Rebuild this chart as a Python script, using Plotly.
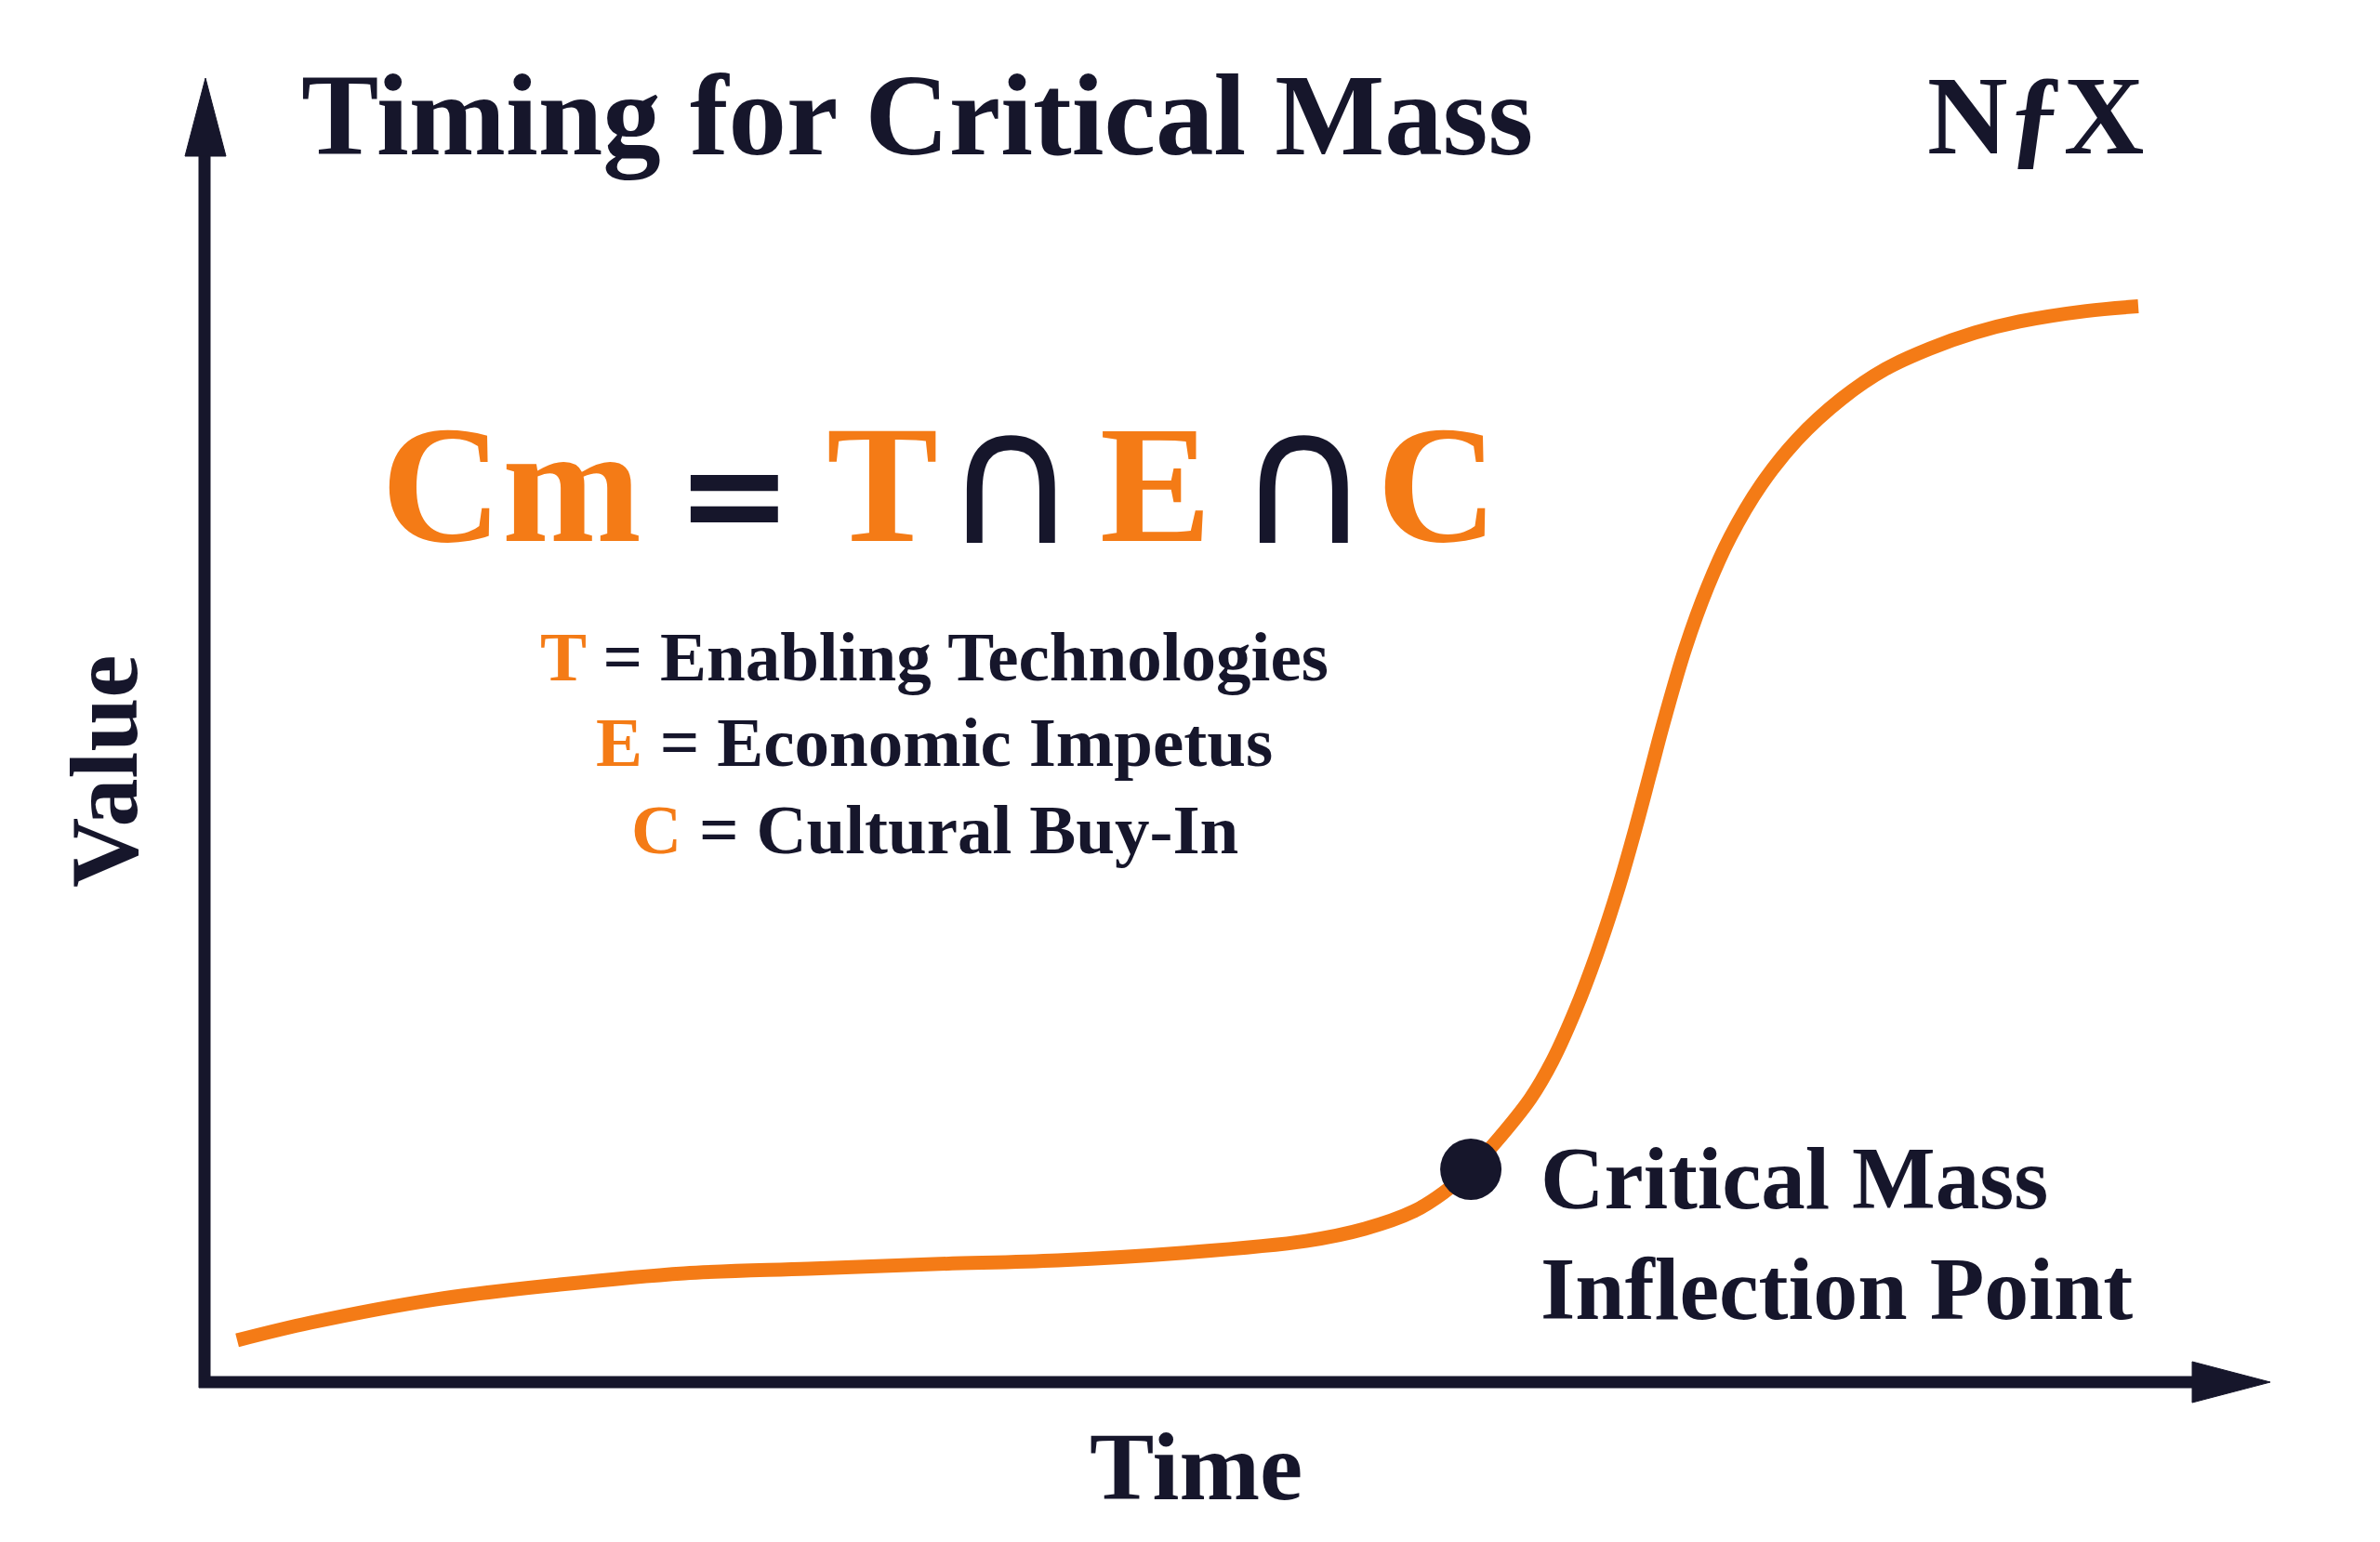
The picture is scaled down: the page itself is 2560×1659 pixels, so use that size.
import plotly.graph_objects as go

# ---- data (time and value on a 0-100 scale) ----
time = [1.58, 5.13, 11.16, 17.19, 23.22, 29.25, 35.28, 41.31, 47.30, 53.33,
        56.17, 58.55, 59.99, 61.30, 62.42, 64.18, 65.26, 66.34, 67.37, 68.45,
        69.31, 69.98, 70.66, 71.69, 72.77, 73.85, 75.34, 77.09, 79.25, 81.37,
        83.53, 85.69, 87.85, 91.09, 93.61]
value = [3.21, 4.56, 6.34, 7.48, 8.34, 8.70, 9.05, 9.34, 9.91, 10.83,
         11.76, 13.11, 14.54, 16.32, 18.25, 21.74, 24.66, 28.44, 32.72, 37.92,
         42.69, 46.69, 50.75, 56.31, 61.01, 64.79, 68.78, 72.27, 75.41, 77.69,
         79.26, 80.47, 81.33, 82.14, 82.50]
critical_time = [61.3]
critical_value = [16.32]

title_text = "Timing for Critical Mass"
logo_text = "N\u0192X"
x_label = "Time"
y_label = "Value"
point_lines = ["Critical Mass", "Inflection Point"]
eq_terms = ["Cm", "=", "T", "\u2229", "E", "\u2229", "C"]
legend_letters = ["T", "E", "C"]
legend_meanings = ["Enabling Technologies", "Economic Impetus", "Cultural Buy-In"]

ORANGE = "#F47B16"
NAVY = "#16162B"
SERIF = "Liberation Serif"

W, H = 2560, 1659
L, R, T, B = 220, 118, 84, 172
PW, PH = W - L - R, H - T - B


def px(x):
    return (x - L) / PW


def py(y):
    return (H - B - y) / PH


fig = go.Figure()
fig.add_trace(go.Scatter(x=time, y=value, mode="lines",
                         line=dict(color=ORANGE, width=15, shape="spline", smoothing=1.0),
                         hoverinfo="skip"))
fig.add_trace(go.Scatter(x=critical_time, y=critical_value, mode="markers",
                         marker=dict(color=NAVY, size=66), hoverinfo="skip"))

shapes = []
lw = 13
# y axis line + arrow
shapes.append(dict(type="line", xref="paper", yref="paper", x0=px(220), x1=px(220),
                   y0=py(1493), y1=py(165), line=dict(color=NAVY, width=lw)))
shapes.append(dict(type="path", xref="paper", yref="paper",
                   path=f"M {px(199)} {py(168)} L {px(221)} {py(84)} L {px(243)} {py(168)} Z",
                   fillcolor=NAVY, line=dict(color=NAVY, width=1)))
# x axis line + arrow
shapes.append(dict(type="line", xref="paper", yref="paper", x0=px(214), x1=px(2362),
                   y0=py(1487), y1=py(1487), line=dict(color=NAVY, width=lw)))
shapes.append(dict(type="path", xref="paper", yref="paper",
                   path=f"M {px(2358)} {py(1465)} L {px(2442)} {py(1487)} L {px(2358)} {py(1509)} Z",
                   fillcolor=NAVY, line=dict(color=NAVY, width=1)))

ann = []


def add(text, x, y, size, color=NAVY, family=SERIF, xanchor="center", weight="bold", angle=0):
    ann.append(dict(text=text, x=px(x), y=py(y), xref="paper", yref="paper",
                    xanchor=xanchor, yanchor="middle", showarrow=False, textangle=angle,
                    font=dict(size=size, color=color, family=family, weight=weight)))


add(title_text, 322, 125, 125, xanchor="left")
add(logo_text, 2308, 125, 120, xanchor="right")

# equation
eq_x = [550, 790, 949, 1087, 1243, 1402, 1546]
for term, xx in zip(eq_terms, eq_x):
    if term == "=":
        add(term, xx, 532, 150, color=NAVY, family="DejaVu Sans")
    elif term == "\u2229":
        add(term, xx, 514, 200, color=NAVY, family="DejaVu Sans", weight="normal")
    else:
        add(term, xx, 521, 180, color=ORANGE)

leg_y = [707, 799, 892]
for letter, meaning, yy in zip(legend_letters, legend_meanings, leg_y):
    add(f"<span style='color:{ORANGE}'>{letter}</span> = {meaning}", 1005, yy, 75)

add(point_lines[0], 1655, 1268, 95, xanchor="left")
add(point_lines[1], 1655, 1386, 96, xanchor="left")

add(x_label, 1286, 1577, 104)
add(y_label, 111, 830, 104, angle=-90)

fig.update_layout(
    width=W, height=H,
    margin=dict(l=L, r=R, t=T, b=B, pad=0),
    paper_bgcolor="white", plot_bgcolor="white",
    showlegend=False,
    xaxis=dict(range=[0, 100], visible=False, fixedrange=True),
    yaxis=dict(range=[0, 100], visible=False, fixedrange=True),
    shapes=shapes, annotations=ann,
)

fig.write_html("out.html", config={"displayModeBar": False},
               post_script="document.body.style.margin='0';")
